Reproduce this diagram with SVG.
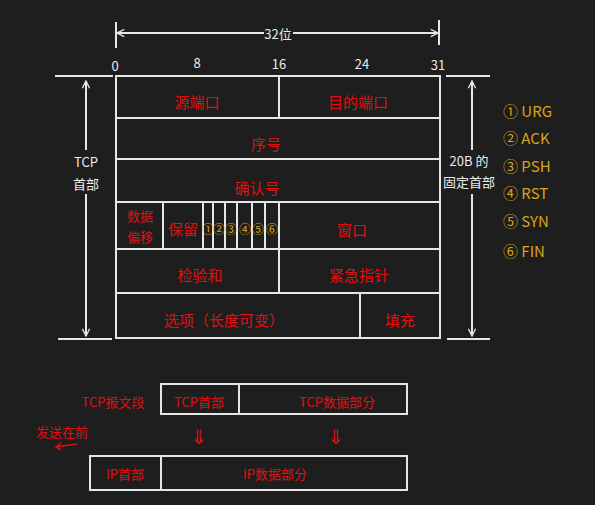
<svg xmlns="http://www.w3.org/2000/svg" width="595" height="505" viewBox="0 0 595 505">
<defs>
<style>
.ln{stroke:#e6e6e6;stroke-width:2;fill:none}
.bx{stroke:#e6e6e6;stroke-width:2;fill:none}
.w{fill:#ececec;font-family:"Noto Sans CJK SC","Liberation Sans",sans-serif;font-size:13px;text-anchor:middle;dominant-baseline:central}
.r{fill:#e01010;font-family:"Noto Sans CJK SC","Liberation Sans",sans-serif;font-size:15px;text-anchor:middle;dominant-baseline:central}
.rs{fill:#e01010;font-family:"Noto Sans CJK SC","Liberation Sans",sans-serif;font-size:13px;text-anchor:middle;dominant-baseline:central}
.ra{fill:#e01010;font-family:"DejaVu Sans",sans-serif;font-size:20px;text-anchor:middle;dominant-baseline:central}
.y{fill:#d9a514;font-family:"Noto Sans CJK SC","Liberation Sans",sans-serif;font-size:15px;dominant-baseline:central}
.yc{fill:#d9a514;font-family:"Noto Sans CJK SC","Liberation Sans",sans-serif;font-size:12px;text-anchor:middle;dominant-baseline:central}
</style>
<marker id="ah" viewBox="0 0 10 10" refX="9" refY="5" markerWidth="9" markerHeight="9" orient="auto-start-reverse" markerUnits="userSpaceOnUse">
<path d="M1,1 L9,5 L1,9" fill="none" stroke="#e6e6e6" stroke-width="1.5"/>
</marker>
</defs>
<rect width="595" height="505" fill="#1e1e1e"/>

<g id="dimensions">
<line class="ln" x1="116" y1="22" x2="116" y2="48"/>
<line class="ln" x1="439" y1="20" x2="439" y2="45"/>
<line class="ln" x1="117" y1="33" x2="264" y2="33" marker-start="url(#ah)"/>
<line class="ln" x1="293" y1="33" x2="438" y2="33" marker-end="url(#ah)"/>
<text class="w" x="278" y="33">32位</text>
<text class="w" x="115" y="65">0</text>
<text class="w" x="197" y="62">8</text>
<text class="w" x="279" y="63">16</text>
<text class="w" x="362" y="63">24</text>
<text class="w" x="438" y="64">31</text>
</g>

<g id="connectors">
<line class="ln" x1="55" y1="76" x2="113" y2="76"/>
<line class="ln" x1="446" y1="76" x2="490" y2="76"/>
<line class="ln" x1="58" y1="339" x2="112" y2="339"/>
<line class="ln" x1="447" y1="339" x2="490" y2="339"/>
<line class="ln" x1="86" y1="150" x2="86" y2="81" marker-end="url(#ah)"/>
<line class="ln" x1="86" y1="194" x2="86" y2="336" marker-end="url(#ah)"/>
<line class="ln" x1="472" y1="150" x2="472" y2="81" marker-end="url(#ah)"/>
<line class="ln" x1="472" y1="194" x2="472" y2="336" marker-end="url(#ah)"/>
</g>

<g id="tcp-header-label">
<text class="w" x="86" y="161">TCP</text>
<text class="w" x="86" y="183">首部</text>
</g>
<g id="fixed-header-label">
<text class="w" x="469" y="160">20B 的</text>
<text class="w" x="469" y="181">固定首部</text>
</g>

<g id="header-table">
<rect class="bx" x="116" y="76" width="324" height="262"/>
<line class="ln" x1="116" y1="118" x2="440" y2="118"/>
<line class="ln" x1="116" y1="159" x2="440" y2="159"/>
<line class="ln" x1="116" y1="202" x2="440" y2="202"/>
<line class="ln" x1="116" y1="249" x2="440" y2="249"/>
<line class="ln" x1="116" y1="293" x2="440" y2="293"/>
<line class="ln" x1="279" y1="76" x2="279" y2="118"/>
<line class="ln" x1="279" y1="249" x2="279" y2="293"/>
<line class="ln" x1="360" y1="293" x2="360" y2="338"/>
<line class="ln" x1="163" y1="202" x2="163" y2="249"/>
<line class="ln" x1="203" y1="202" x2="203" y2="249"/>
<line class="ln" x1="213" y1="202" x2="213" y2="249"/>
<line class="ln" x1="225" y1="202" x2="225" y2="249"/>
<line class="ln" x1="237" y1="202" x2="237" y2="249"/>
<line class="ln" x1="252" y1="202" x2="252" y2="249"/>
<line class="ln" x1="265" y1="202" x2="265" y2="249"/>
<line class="ln" x1="279" y1="202" x2="279" y2="249"/>
</g>

<g id="source-port"><text class="r" x="197" y="101">源端口</text></g>
<g id="dest-port"><text class="r" x="358" y="101">目的端口</text></g>
<g id="seq"><text class="r" x="266" y="143">序号</text></g>
<g id="ack-num"><text class="r" x="257" y="187">确认号</text></g>
<g id="data-offset"><text class="rs" x="140" y="215">数据</text><text class="rs" x="140" y="236">偏移</text></g>
<g id="reserved"><text class="r" x="183" y="228">保留</text></g>
<g id="flags">
<text class="yc" x="208" y="228">①</text>
<text class="yc" x="219" y="228">②</text>
<text class="yc" x="231" y="228">③</text>
<text class="yc" x="245" y="228">④</text>
<text class="yc" x="258" y="228">⑤</text>
<text class="yc" x="272" y="228">⑥</text>
</g>
<g id="window"><text class="r" x="352" y="229">窗口</text></g>
<g id="checksum"><text class="r" x="200" y="274">检验和</text></g>
<g id="urgent"><text class="r" x="359" y="274">紧急指针</text></g>
<g id="options"><text class="r" x="224" y="319">选项（长度可变）</text></g>
<g id="padding"><text class="r" x="400" y="319">填充</text></g>

<g id="legend">
<text class="y" x="503" y="110">① URG</text>
<text class="y" x="503" y="137">② ACK</text>
<text class="y" x="503" y="165">③ PSH</text>
<text class="y" x="503" y="192">④ RST</text>
<text class="y" x="503" y="220">⑤ SYN</text>
<text class="y" x="503" y="250">⑥ FIN</text>
</g>

<g id="tcp-segment">
<text class="rs" x="113" y="401">TCP报文段</text>
<rect class="bx" x="161" y="384" width="246" height="30"/>
<line class="ln" x1="239" y1="384" x2="239" y2="414"/>
<text class="rs" x="199" y="401">TCP首部</text>
<text class="rs" x="337" y="401">TCP数据部分</text>
</g>

<g id="down-arrows">
<text class="ra" x="199" y="437">⇓</text>
<text class="ra" x="336" y="437">⇓</text>
</g>

<g id="send-first">
<text class="rs" x="62" y="431">发送在前</text>
<path d="M77,444 L56,447 M61,443 L56,447 L61,450" fill="none" stroke="#e01010" stroke-width="1.5"/>
</g>

<g id="ip-datagram">
<rect class="bx" x="90" y="456" width="317" height="34"/>
<line class="ln" x1="161" y1="456" x2="161" y2="490"/>
<text class="rs" x="125" y="473">IP首部</text>
<text class="rs" x="275" y="473">IP数据部分</text>
</g>
</svg>
